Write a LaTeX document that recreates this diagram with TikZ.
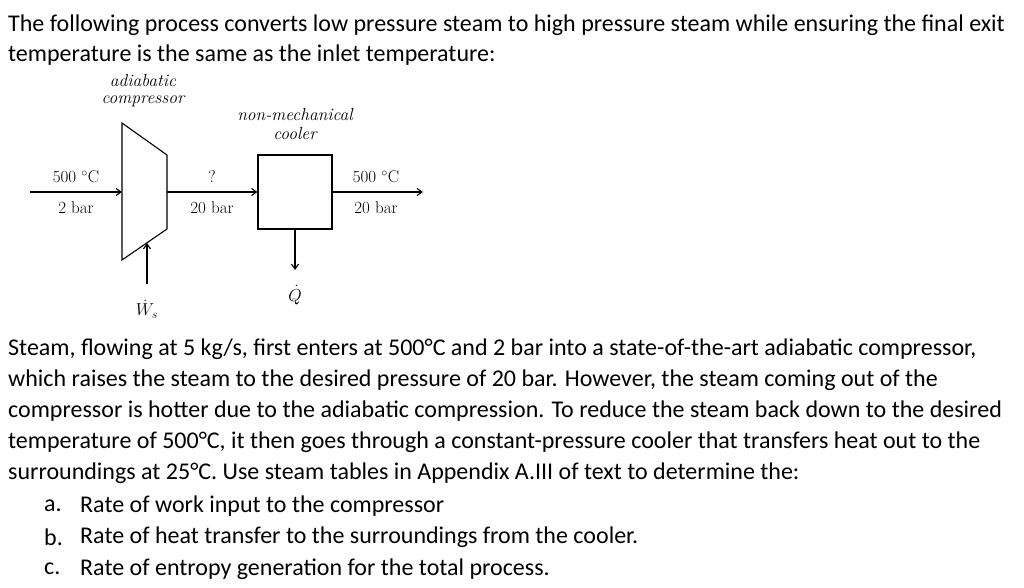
\documentclass[tikz,border=0pt]{standalone}
\usepackage{fontspec}
\setmainfont{Carlito}
\newfontfamily\lmr{Latin Modern Roman}
\usetikzlibrary{arrows.meta}
\begin{document}
\begin{tikzpicture}[x=1pt,y=-1pt,
  body/.style={anchor=west,inner sep=0pt,font=\fontsize{24}{28}\selectfont},
  lab/.style={inner sep=0pt,font=\lmr\fontsize{17}{19}\selectfont},
  ilab/.style={inner sep=0pt,font=\lmr\itshape\fontsize{17.5}{19}\selectfont},
  flow/.style={line width=1.1pt,-{Straight Barb[length=5pt,width=7pt]}}]
\useasboundingbox (0,0) rectangle (1024,588);
\node[body] (t1) at (8,25) {The following process converts low pressure steam to high pressure steam while ensuring the final exit};
\node[body] (t2) at (8,55) {temperature is the same as the inlet temperature:};
% diagram
\draw[line width=1.1pt] (122,123) coordinate (c1) -- (167,155) -- (167,229) -- (122,260) -- cycle;
\coordinate (cin) at (122,192);
\coordinate (cout) at (167,192);
\node[draw,line width=1.1pt,minimum width=74pt,minimum height=74pt,inner sep=0pt] (cool) at (295,192) {};
\coordinate (src) at (30,192);
\coordinate (dst) at (423,192);
\coordinate (qend) at (295,270);
\coordinate (wstart) at (147,284);
\coordinate (wend) at (147,243);
\draw[flow] (src) -- (cin);
\draw[flow] (cout) -- (cool.west);
\draw[flow] (cool.east) -- (dst);
\draw[flow] (cool.south) -- (qend);
\draw[flow] (wstart) -- (wend);
\node[ilab] (a1) at (143,81) {adiabatic};
\node[ilab] (a2) at (143,101) {compressor};
\node[ilab] (n1) at (295,115) {non-mechanical};
\node[ilab] (n2) at (295,134) {cooler};
\node[lab] (l1) at (76,177) {500 $^\circ$C};
\node[lab] (l2) at (76,208) {2 bar};
\node[lab] (l3) at (212,177) {?};
\node[lab] (l4) at (212,208) {20 bar};
\node[lab] (l5) at (376,177) {500 $^\circ$C};
\node[lab] (l6) at (376,208) {20 bar};
\node[lab] (q) at (295,295) {$\dot Q$};
\node[lab] (w) at (147,309) {$\dot W_s$};
% text
\node[body] (b1) at (8,349) {Steam, flowing at 5 kg/s, first enters at 500°C and 2 bar into a state-of-the-art adiabatic compressor,};
\node[body] (b2) at (8,380) {which raises the steam to the desired pressure of 20 bar. However, the steam coming out of the};
\node[body] (b3) at (8,411) {compressor is hotter due to the adiabatic compression. To reduce the steam back down to the desired};
\node[body] (b4) at (8,442) {temperature of 500°C, it then goes through a constant-pressure cooler that transfers heat out to the};
\node[body] (b5) at (8,473) {surroundings at 25°C. Use steam tables in Appendix A.III of text to determine the:};
\node[body] (ia) at (44,506) {a.};
\node[body] (ta) at (80,506) {Rate of work input to the compressor};
\node[body] (ib) at (44,537) {b.};
\node[body] (tb) at (80,537) {Rate of heat transfer to the surroundings from the cooler.};
\node[body] (ic) at (44,569) {c.};
\node[body] (tc) at (80,569) {Rate of entropy generation for the total process.};
\end{tikzpicture}
\end{document}
